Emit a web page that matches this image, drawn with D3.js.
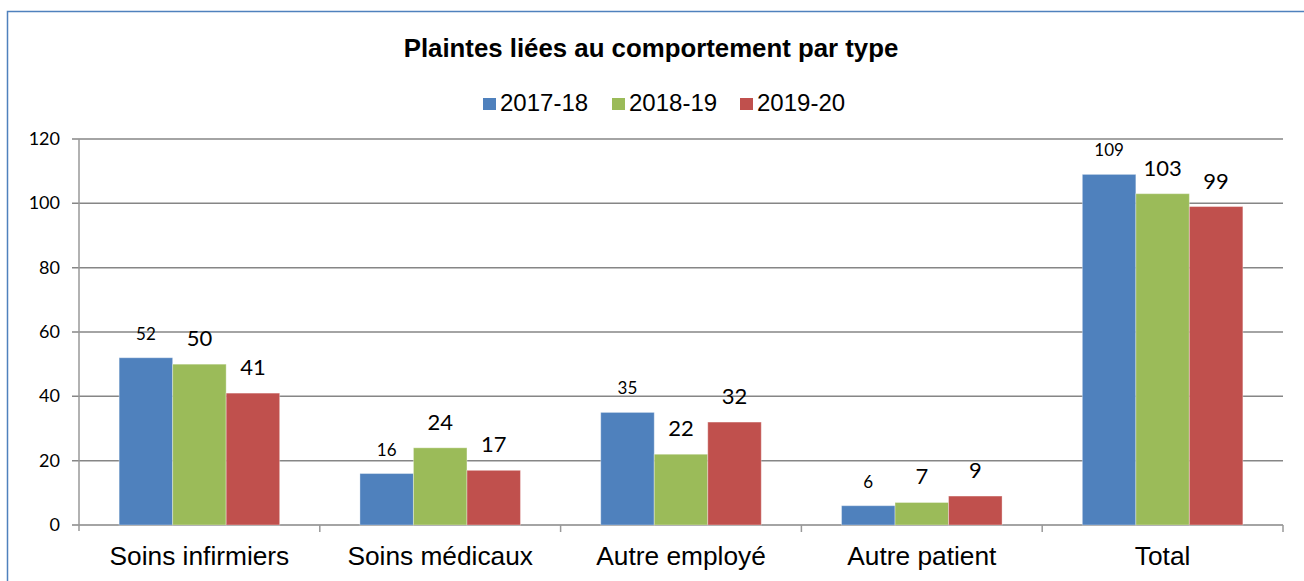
<!DOCTYPE html>
<html>
<head>
<meta charset="utf-8">
<script src="https://cdn.jsdelivr.net/npm/d3@7"></script>
<style>
  body { margin: 0; background: #fff; }
  svg { display: block; }
</style>
</head>
<body>
<svg></svg>
<script>
const CHART_SIZE = { width: 1304, height: 581 };
const PLOT = { left: 79, right: 1283, top: 139, bottom: 525 };

const categories = ['Soins infirmiers', 'Soins médicaux', 'Autre employé', 'Autre patient', 'Total'];
const seriesNames = ['2017-18', '2018-19', '2019-20'];
const values2017 = [52, 16, 35, 6, 109];
const values2018 = [50, 24, 22, 7, 103];
const values2019 = [41, 17, 32, 9, 99];
const yTicks = [0, 20, 40, 60, 80, 100, 120];

const colors = ['#4F81BD', '#9BBB59', '#C0504D'];
const labelSizes = [17, 22, 22];

const svg = d3.select('svg')
  .attr('width', CHART_SIZE.width)
  .attr('height', CHART_SIZE.height);

// chart frame
svg.append('rect')
  .attr('x', 7.5).attr('y', 11.5)
  .attr('width', 1320).attr('height', 600)
  .attr('fill', 'none')
  .attr('stroke', '#4F81BD')
  .attr('stroke-width', 1.5);

svg.append('text')
  .attr('x', 651)
  .attr('y', 57)
  .attr('text-anchor', 'middle')
  .style('font-family', 'Liberation Sans, Arial, sans-serif')
  .style('font-weight', 'bold')
  .style('font-size', '25.8px')
  .text('Plaintes liées au comportement par type');

// legend
const legendX = [483, 612, 740];
const legend = svg.append('g').attr('class', 'legend');
seriesNames.forEach((name, i) => {
  legend.append('rect')
    .attr('x', legendX[i]).attr('y', 98)
    .attr('width', 13).attr('height', 12)
    .attr('fill', colors[i]);
  legend.append('text')
    .attr('x', legendX[i] + 17).attr('y', 111)
    .style('font-family', 'Liberation Sans, Arial, sans-serif')
    .style('font-size', '24px')
    .text(name);
});

const x = d3.scaleBand()
  .domain(categories)
  .range([PLOT.left, PLOT.right])
  .padding(0);

const xInner = d3.scaleBand()
  .domain(seriesNames)
  .range([0, x.bandwidth()])
  .paddingInner(0)
  .paddingOuter(0.75);

const y = d3.scaleLinear()
  .domain([0, 120])
  .range([PLOT.bottom, PLOT.top]);

// gridlines
svg.append('g')
  .selectAll('line')
  .data(yTicks)
  .join('line')
  .attr('x1', PLOT.left - 7).attr('x2', PLOT.right)
  .attr('y1', d => y(d)).attr('y2', d => y(d))
  .attr('stroke', '#868686')
  .attr('stroke-width', 1.5);

// y axis line
svg.append('line')
  .attr('x1', PLOT.left).attr('x2', PLOT.left)
  .attr('y1', PLOT.top).attr('y2', PLOT.bottom + 6)
  .attr('stroke', '#999')
  .attr('stroke-width', 1.5);

svg.append('g')
  .selectAll('text')
  .data(yTicks)
  .join('text')
  .attr('x', 60)
  .attr('y', d => y(d) + 6)
  .attr('text-anchor', 'end')
  .style('font-family', 'Lato, sans-serif')
  .style('font-size', '18px')
  .text(d => d);

// x axis category ticks
const boundaries = categories.map(c => x(c)).concat([PLOT.right]);
svg.append('g')
  .selectAll('line')
  .data(boundaries.slice(1))
  .join('line')
  .attr('x1', d => d).attr('x2', d => d)
  .attr('y1', PLOT.bottom).attr('y2', PLOT.bottom + 7)
  .attr('stroke', '#999')
  .attr('stroke-width', 1.5);

svg.append('g')
  .selectAll('text')
  .data(categories)
  .join('text')
  .attr('x', d => x(d) + x.bandwidth() / 2)
  .attr('y', 565)
  .attr('text-anchor', 'middle')
  .style('font-family', 'Liberation Sans, Arial, sans-serif')
  .style('font-size', '26.3px')
  .text(d => d);

// bars
const series = [values2017, values2018, values2019];
series.forEach((vals, si) => {
  const g = svg.append('g').attr('class', 'series');
  g.selectAll('rect')
    .data(vals)
    .join('rect')
    .attr('x', (d, i) => x(categories[i]) + xInner(seriesNames[si]))
    .attr('y', d => y(d))
    .attr('width', xInner.bandwidth())
    .attr('height', d => y(0) - y(d))
    .attr('fill', colors[si])
    .attr('stroke', '#fff')
    .attr('stroke-opacity', 0.35)
    .attr('stroke-width', 1);

  g.selectAll('text')
    .data(vals)
    .join('text')
    .attr('x', (d, i) => x(categories[i]) + xInner(seriesNames[si]) + xInner.bandwidth() / 2)
    .attr('y', d => y(d) - 18)
    .attr('text-anchor', 'middle')
    .style('font-family', 'Lato, sans-serif')
    .style('font-size', labelSizes[si] + 'px')
    .text(d => d);
});
</script>
</body>
</html>
